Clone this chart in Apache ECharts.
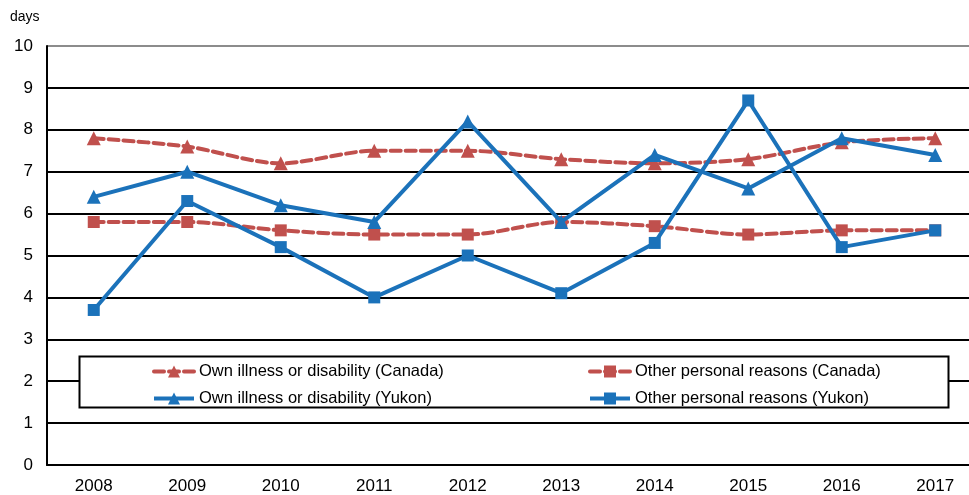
<!DOCTYPE html>
<html>
<head>
<meta charset="utf-8">
<script src="https://cdn.jsdelivr.net/npm/echarts@6/dist/echarts.min.js"></script>
<style>
  html, body { margin: 0; padding: 0; background: #fff; }
  #chart { width: 969px; height: 495px; }
</style>
</head>
<body>
<div id="chart"></div>
<script>
// Years on the category axis
const years = ['2008', '2009', '2010', '2011', '2012', '2013', '2014', '2015', '2016', '2017'];

// Average days lost per worker
const illnessCanada = [7.8, 7.6, 7.2, 7.5, 7.5, 7.3, 7.2, 7.3, 7.7, 7.8];
const otherCanada   = [5.8, 5.8, 5.6, 5.5, 5.5, 5.8, 5.7, 5.5, 5.6, 5.6];
const illnessYukon  = [6.4, 7.0, 6.2, 5.8, 8.2, 5.8, 7.4, 6.6, 7.8, 7.4];
const otherYukon    = [3.7, 6.3, 5.2, 4.0, 5.0, 4.1, 5.3, 8.7, 5.2, 5.6];

const seriesNames = [
  'Own illness or disability (Canada)',
  'Other personal reasons (Canada)',
  'Own illness or disability (Yukon)',
  'Other personal reasons (Yukon)'
];

const RED = '#C0504D';
const BLUE = '#1B72BA';
const FONT = '"Liberation Sans", Arial, sans-serif';

const chart = echarts.init(document.getElementById('chart'), null, { renderer: 'canvas' });

// grid lines 0..10: black, the top one grey
const splitColors = [];
for (let i = 0; i < 10; i++) splitColors.push('#000');
splitColors.push('#8c8c8c');

function canadaSeries(name, data, symbol, size) {
  return {
    name, type: 'line', data, smooth: 0.3,
    symbol, symbolSize: size, showSymbol: true,
    lineStyle: { color: RED, width: 4, type: [10, 5], cap: 'round' },
    itemStyle: { color: RED },
    z: 3
  };
}
function yukonSeries(name, data, symbol, size) {
  return {
    name, type: 'line', data,
    symbol, symbolSize: size, showSymbol: true,
    lineStyle: { color: BLUE, width: 4 },
    itemStyle: { color: BLUE },
    z: 4
  };
}

const legendText = { fontFamily: FONT, fontSize: 16.5, color: '#000' };
const legendCommon = {
  orient: 'vertical', top: 358,
  itemWidth: 40, itemHeight: 15, itemGap: 10,
  textStyle: legendText, z: 10,
  lineStyle: { width: 4 }
};

chart.setOption({
  animation: false,
  backgroundColor: '#fff',
  // the plot runs past the right edge of the canvas
  grid: { left: 47, width: 935, top: 46, bottom: 30, outerBoundsMode: 'none' },
  xAxis: {
    type: 'category',
    data: years,
    boundaryGap: true,
    axisLine: { show: true, lineStyle: { color: '#000', width: 2 } },
    axisTick: { show: false },
    axisLabel: { fontFamily: FONT, fontSize: 17, color: '#000', margin: 13 },
    splitLine: { show: false }
  },
  yAxis: {
    type: 'value',
    min: 0, max: 10, interval: 1,
    axisLine: { show: true, lineStyle: { color: '#000', width: 2 } },
    axisTick: { show: false },
    axisLabel: { fontFamily: FONT, fontSize: 17, color: '#000', margin: 14 },
    splitLine: { show: true, lineStyle: { color: splitColors, width: 2 } }
  },
  graphic: [
    {
      type: 'text', left: 10, top: 10, z: 10,
      style: { text: 'days', fontFamily: FONT, fontSize: 14, fill: '#000' }
    },
    {
      type: 'rect', z: 5,
      shape: { x: 79.5, y: 356.5, width: 869, height: 51 },
      style: { fill: '#fff', stroke: '#000', lineWidth: 2 }
    }
  ],
  legend: [
    Object.assign({ data: [seriesNames[0], seriesNames[2]], left: 147 }, legendCommon),
    Object.assign({ data: [seriesNames[1], seriesNames[3]], left: 583 }, legendCommon)
  ],
  series: [
    canadaSeries(seriesNames[0], illnessCanada, 'triangle', 14),
    canadaSeries(seriesNames[1], otherCanada, 'rect', 12),
    yukonSeries(seriesNames[2], illnessYukon, 'triangle', 14),
    yukonSeries(seriesNames[3], otherYukon, 'rect', 12)
  ]
});
</script>
</body>
</html>
